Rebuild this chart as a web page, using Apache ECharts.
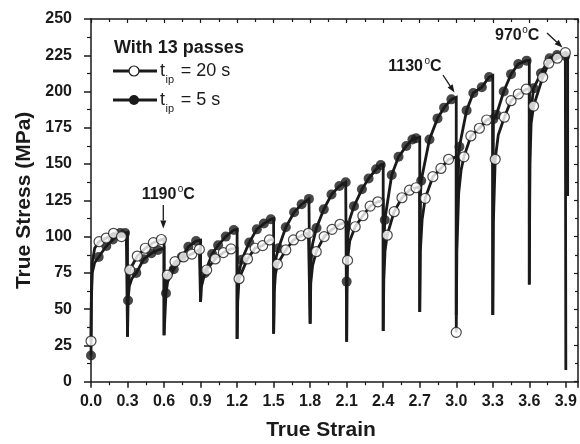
<!DOCTYPE html>
<html><head><meta charset="utf-8">
<script src="https://cdn.jsdelivr.net/npm/echarts@6/dist/echarts.min.js"></script>
<style>html,body{margin:0;padding:0;background:#fff}#c{width:580px;height:444px}</style>
</head><body><div id="c"></div>
<script>
// ---- data (True Strain, True Stress MPa) ----
const curve20 = [
 [0,28],[0.003,60],[0.01,82],[0.03,92],[0.066,96.5],[0.125,99],[0.185,102.3],[0.25,100],[0.29,101.5],[0.3,102],[0.3,31],
 [0.303,60],[0.318,77],[0.38,86.6],[0.446,92],[0.512,95.8],[0.578,98],[0.6,98.5],[0.6,32],
 [0.604,55],[0.612,66],[0.627,73.5],[0.69,82.7],[0.76,86],[0.828,88],[0.89,91.2],[0.9,91.5],[0.9,55],
 [0.905,66],[0.92,72],[0.95,77],[1.02,84.6],[1.087,89],[1.15,91.5],[1.2,92],[1.2,29.5],
 [1.205,55],[1.216,71],[1.285,84.6],[1.348,92],[1.41,93.8],[1.466,97.7],[1.5,98.5],[1.5,33],
 [1.505,62],[1.515,74],[1.531,81],[1.6,90.8],[1.663,97.7],[1.726,100.6],[1.786,102.3],[1.8,102.5],[1.8,40],
 [1.805,68],[1.82,80],[1.85,89.6],[1.915,100],[1.98,105],[2.045,108.5],[2.1,110],[2.1,27.6],
 [2.103,60],[2.107,83.6],[2.125,97],[2.17,106.8],[2.233,114.4],[2.293,121],[2.356,124],[2.4,125],[2.4,35],
 [2.405,70],[2.415,90],[2.433,101],[2.49,117.2],[2.554,126.8],[2.616,132],[2.67,133.7],[2.7,134.5],[2.7,48],
 [2.705,90],[2.72,112],[2.745,126.4],[2.808,141.3],[2.874,147],[2.937,153.3],[3.0,155],[3.0,34],
 [3.005,90],[3.02,130],[3.04,146],[3.063,155],[3.12,169.4],[3.19,174.7],[3.25,180.4],[3.3,182],[3.3,46],
 [3.305,110],[3.32,153.3],[3.345,170],[3.395,182.3],[3.45,193.7],[3.51,198.3],[3.575,201.6],[3.6,202],[3.6,67],
 [3.605,150],[3.615,178],[3.635,190],[3.71,209.8],[3.76,219.5],[3.83,223],[3.896,226.8],[3.915,225],[3.915,128]
];
const marks20 = [
 [0,28],[0.066,96.5],[0.125,99],[0.185,102.3],[0.25,100],
 [0.318,77],[0.38,86.6],[0.446,92],[0.512,95.8],[0.578,98],
 [0.627,73.5],[0.69,82.7],[0.76,86],[0.828,88],[0.89,91.2],
 [0.95,77],[1.02,84.6],[1.087,89],[1.15,91.5],
 [1.216,71],[1.285,84.6],[1.348,92],[1.41,93.8],[1.466,97.7],
 [1.531,81],[1.6,90.8],[1.663,97.7],[1.726,100.6],[1.786,102.3],
 [1.85,89.6],[1.915,100],[1.98,105],[2.045,108.5],
 [2.107,83.6],[2.17,106.8],[2.233,114.4],[2.293,121],[2.356,124],
 [2.433,101],[2.49,117.2],[2.554,126.8],[2.616,132],[2.67,133.7],
 [2.745,126.4],[2.808,141.3],[2.874,147],[2.937,153.3],
 [3.0,34],[3.063,155],[3.12,169.4],[3.19,174.7],[3.25,180.4],
 [3.32,153.3],[3.395,182.3],[3.45,193.7],[3.51,198.3],[3.575,201.6],
 [3.635,190],[3.71,209.8],[3.76,219.5],[3.83,223],[3.896,226.8]
];
const curve5 = [
 [0,18],[0.003,55],[0.01,75],[0.03,82],[0.063,86],[0.126,93.5],[0.18,98],[0.24,102.5],[0.28,102.5],[0.3,103],[0.3,31],
 [0.304,56],[0.315,66],[0.335,71],[0.372,75],[0.433,84.4],[0.496,88.5],[0.55,90.8],[0.6,92],[0.6,32],
 [0.616,61],[0.63,69],[0.68,77.5],[0.745,86],[0.8,93],[0.863,97],[0.9,97.5],[0.9,55],
 [0.905,65],[0.934,74.7],[0.995,88],[1.044,94],[1.107,100],[1.173,104.6],[1.2,105],[1.2,29.5],
 [1.205,62],[1.215,75],[1.238,84],[1.3,96],[1.362,105],[1.42,109],[1.477,112],[1.5,112.5],[1.5,33],
 [1.505,70],[1.515,84],[1.54,92],[1.6,106.4],[1.668,116.8],[1.73,122.3],[1.79,126],[1.8,126.5],[1.8,40],
 [1.805,80],[1.82,95],[1.852,106],[1.912,118.8],[1.975,129],[2.04,134.9],[2.092,137.5],[2.1,138],[2.1,27.6],
 [2.1,69],[2.11,100],[2.125,112],[2.16,121],[2.225,132.6],[2.28,140],[2.342,146.4],[2.38,149.4],[2.4,150],[2.4,35],
 [2.403,85],[2.413,111.5],[2.47,142.5],[2.526,155],[2.59,162.5],[2.64,167],[2.67,167.8],[2.7,168.5],[2.7,48],
 [2.703,100],[2.707,130],[2.712,138.5],[2.78,167],[2.846,181.5],[2.9,188.9],[2.96,194.6],[3.0,196],[3.0,46],
 [3.005,120],[3.026,162],[3.085,187],[3.14,199],[3.21,203],[3.27,210],[3.3,211],[3.3,46],
 [3.303,150],[3.305,181],[3.33,184],[3.39,200],[3.45,212],[3.51,219],[3.578,221.3],[3.6,221.5],[3.6,67],
 [3.605,180],[3.635,202.2],[3.696,212.6],[3.767,223],[3.828,225.2],[3.896,224.5],[3.9,224.5],[3.9,8]
];
const marks5 = [
 [0,18],[0.063,86],[0.126,93.5],[0.18,98],[0.24,102.5],[0.28,102.5],
 [0.304,56],[0.372,75],[0.433,84.4],[0.496,88.5],[0.55,90.8],
 [0.616,61],[0.68,77.5],[0.745,86],[0.8,93],[0.863,97],
 [0.934,74.7],[0.995,88],[1.044,94],[1.107,100],[1.173,104.6],
 [1.238,84],[1.3,96],[1.362,105],[1.42,109],[1.477,112],
 [1.54,92],[1.6,106.4],[1.668,116.8],[1.73,122.3],[1.79,126],
 [1.852,106],[1.912,118.8],[1.975,129],[2.04,134.9],[2.092,137.5],
 [2.1,69],[2.16,121],[2.225,132.6],[2.28,140],[2.342,146.4],[2.38,149.4],
 [2.413,111.5],[2.47,142.5],[2.526,155],[2.59,162.5],[2.64,167],[2.67,167.8],
 [2.712,138.5],[2.78,167],[2.846,181.5],[2.9,188.9],[2.96,194.6],
 [3.026,162],[3.085,187],[3.14,199],[3.21,203],[3.27,210],
 [3.305,181],[3.33,184],[3.39,200],[3.45,212],[3.51,219],[3.578,221.3],
 [3.635,202.2],[3.696,212.6],[3.767,223],[3.828,225.2],[3.896,224.5]
];
const legendTitle = 'With 13 passes';
const legendValues = ['= 20 s', '= 5 s'];
const tempLabels = ['1190', '1130', '970'];

// ---- drawing ----
const INK = '#1a1a1a';
const FF = '"Liberation Sans", Arial, sans-serif';
function T(x, base, s, size, bold) {
  return {type:'text', z:10, style:{x:x, y:base - 0.35*size, text:s, fontSize:size,
    fontWeight: bold ? 'bold' : 'normal', fontFamily:FF, fill:INK, align:'left', verticalAlign:'middle'}};
}
function arrow(x1, y1, x2, y2) {
  const dx = x2-x1, dy = y2-y1, L = Math.hypot(dx,dy), ux = dx/L, uy = dy/L;
  const hl = 8, hw = 3;
  const bx = x2 - ux*hl, by = y2 - uy*hl;
  return [
    {type:'line', z:10, shape:{x1:x1,y1:y1,x2:bx,y2:by}, style:{stroke:INK, lineWidth:1.3}},
    {type:'polygon', z:10, shape:{points:[[x2,y2],[bx - uy*hw, by + ux*hw],[bx + uy*hw, by - ux*hw]]}, style:{fill:INK}}
  ];
}
function temp(x, base, s) {
  const w = s.length * 0.556 * 16;
  return [T(x, base, s, 16, true), T(x + w + 0.5, base - 7, 'o', 10, false), T(x + w + 6, base, 'C', 16, true)];
}
const graphics = [].concat(
  [T(114, 54, legendTitle, 18, true)],
  [{type:'line', z:10, shape:{x1:113,y1:71,x2:157,y2:71}, style:{stroke:INK, lineWidth:2.8}},
   {type:'circle', z:11, shape:{cx:134, cy:71, r:5}, style:{fill:'#fff', stroke:INK, lineWidth:1.2}},
   T(160, 77, 't', 18, false), T(165.5, 84, 'ip', 11, false), T(180.7, 77, legendValues[0], 18, false)],
  [{type:'line', z:10, shape:{x1:113,y1:100,x2:157,y2:100}, style:{stroke:INK, lineWidth:2.8}},
   {type:'circle', z:11, shape:{cx:134, cy:100, r:5}, style:{fill:INK}},
   T(160, 106, 't', 18, false), T(165.5, 113, 'ip', 11, false), T(180.7, 106, legendValues[1], 18, false)],
  temp(141.7, 200, tempLabels[0]), arrow(163.3, 205, 163.3, 228.5),
  temp(388.3, 71.7, tempLabels[1]), arrow(443, 75, 454.5, 92.5),
  temp(495, 40.7, tempLabels[2]), arrow(547, 33, 562.5, 47.5)
);

const axisLabelStyle = {fontSize:16, fontWeight:'bold', fontFamily:FF, color:INK};
const lineStyle = {color:INK, width:1.5};
const chart = echarts.init(document.getElementById('c'), null, {renderer:'canvas'});
chart.setOption({
  animation:false,
  backgroundColor:'#fff',
  grid:{left:91, right:2, top:19, bottom:62.3, containLabel:false, outerBoundsMode:'none'},
  xAxis:[
    {type:'value', min:0, max:4.0, interval:0.3, position:'bottom',
     axisLine:{show:true, onZero:false, lineStyle:lineStyle},
     axisTick:{show:true, length:6, lineStyle:lineStyle},
     minorTick:{show:true, splitNumber:2, length:3.5, lineStyle:{color:INK, width:1.2}},
     splitLine:{show:false},
     axisLabel:Object.assign({margin:12, formatter:function(v){return v > 3.95 ? '' : v.toFixed(1);}}, axisLabelStyle),
     name:'True Strain', nameLocation:'middle', nameGap:38, nameMoveOverlap:false,
     nameTextStyle:{fontSize:21, fontWeight:'bold', fontFamily:FF, color:INK, padding:[0,27,0,0]}},
    {type:'value', min:0, max:4.0, interval:0.3, position:'top',
     axisLine:{show:true, onZero:false, lineStyle:lineStyle},
     axisTick:{show:true, inside:true, length:4, lineStyle:{color:INK, width:1.2}},
     minorTick:{show:true, splitNumber:2, length:3, lineStyle:{color:INK, width:1.2}},
     splitLine:{show:false}, axisLabel:{show:false}}
  ],
  yAxis:[
    {type:'value', min:0, max:250, interval:25, position:'left',
     axisLine:{show:true, onZero:false, lineStyle:lineStyle},
     axisTick:{show:true, length:7, lineStyle:lineStyle},
     minorTick:{show:true, splitNumber:2, length:4, lineStyle:{color:INK, width:1.2}},
     splitLine:{show:false},
     axisLabel:Object.assign({margin:19}, axisLabelStyle),
     name:'True Stress (MPa)', nameLocation:'middle', nameGap:56, nameMoveOverlap:false,
     nameTextStyle:{fontSize:21, fontWeight:'bold', fontFamily:FF, color:INK}},
    {type:'value', min:0, max:250, interval:25, position:'right',
     axisLine:{show:true, onZero:false, lineStyle:lineStyle},
     axisTick:{show:true, inside:true, length:4, lineStyle:{color:INK, width:1.2}},
     minorTick:{show:true, splitNumber:2, length:3, lineStyle:{color:INK, width:1.2}},
     splitLine:{show:false}, axisLabel:{show:false}}
  ],
  series:[
    {name:'tip = 20 s line', type:'line', data:curve20, symbol:'none', z:2, clip:false,
     lineStyle:{color:INK, width:2.8, join:'miter'}},
    {name:'tip = 5 s line', type:'line', data:curve5, symbol:'none', z:2, clip:false,
     lineStyle:{color:INK, width:2.8, join:'miter'}},
    {name:'tip = 5 s', type:'scatter', data:marks5, symbol:'circle', symbolSize:10, z:3,
     itemStyle:{color:INK}},
    {name:'tip = 20 s', type:'scatter', data:marks20, symbol:'circle', symbolSize:10, z:4,
     itemStyle:{color:'#fff', borderColor:INK, borderWidth:1.2}}
  ],
  graphic:graphics
});
</script></body></html>
